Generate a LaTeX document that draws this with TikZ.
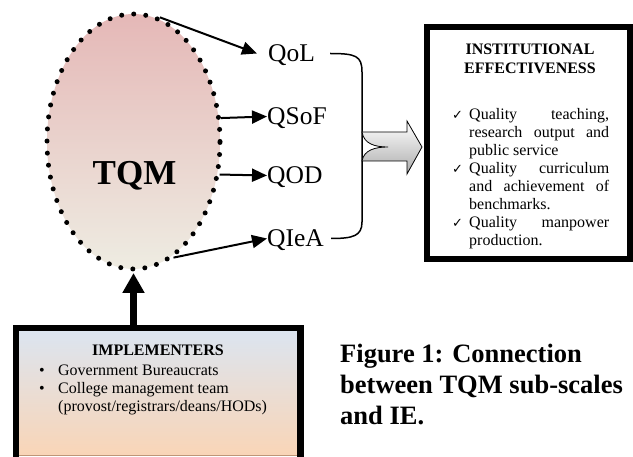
\documentclass[tikz,border=0pt]{standalone}
\usepackage{fontspec}
\setmainfont{Liberation Serif}
\newfontfamily\dejavu{DejaVu Sans}
\usetikzlibrary{arrows.meta,shapes.geometric,calc}
\definecolor{tqmtop}{RGB}{229,184,183}
\definecolor{tqmbot}{RGB}{238,236,226}
\definecolor{impltop}{RGB}{219,229,241}
\definecolor{implbot}{RGB}{249,213,183}
\definecolor{implline}{RGB}{190,150,120}
\begin{document}
\begin{tikzpicture}[x=1pt,y=-1pt,
  lbl/.style={font=\fontsize{25.5}{26}\selectfont, inner sep=0pt, text height=17pt, text depth=0pt, anchor=base west},
  arr/.style={line width=2pt, -{Triangle[length=15pt,width=13pt]}},
  body/.style={font=\fontsize{16}{18.1}\selectfont, inner sep=0pt},
  head/.style={font=\bfseries\fontsize{16}{19}\selectfont, inner sep=0pt, anchor=base},
  thickbox/.style={line width=6.5pt, line join=miter},
  chk/.style={}
]
\newcommand{\chkmark}{\makebox[17pt][l]{\dejavu\fontsize{13}{13}\selectfont ✓}}
\useasboundingbox (0,0) rectangle (633,457);
\clip (0,0) rectangle (633,457);

% TQM ellipse
\node[ellipse, minimum width=173pt, minimum height=255pt, inner sep=0pt,
      top color=tqmtop, bottom color=tqmbot, draw=black, line width=5pt,
      dash pattern=on 0pt off 12.1pt, line cap=round] (tqm) at (133.5,141.5) {};
\node[font=\bfseries\fontsize{35}{35}\selectfont, inner sep=0pt, anchor=base] (tqmtext) at (134.5,185) {TQM};

% sub-scale labels
\node[lbl] (qol) at (268,62) {QoL};
\node[lbl] (qsof) at (267,125) {QSoF};
\node[lbl] (qod) at (267,184) {QOD};
\node[lbl] (qiea) at (267,247) {QIeA};

\draw[arr] (tqm.78) -- ([xshift=-11pt]qol.west);
\draw[arr] (tqm.15) -- (qsof.west);
\draw[arr] (tqm.-21) -- (qod.west);
\draw[arr] (tqm.-71) -- (qiea.west);

% brace
\coordinate (bt) at ([xshift=15pt]qol.east);
\coordinate (bb) at ([xshift=7pt]qiea.east);
\draw[line width=1.5pt] (bt) .. controls +(26,0) and +(0,-16) .. (362,72)
  -- (362,222) .. controls +(0,14) and +(22,0) .. (bb);

% block arrow
\draw[line width=0.8pt, top color=white, bottom color=gray!65, line join=miter]
  (362,132) -- (407,132) -- (407,121) -- (422,147) -- (407,174) -- (407,161) -- (362,161)
  .. controls (364,150) and (375,147) .. (388,147)
  .. controls (375,147) and (364,144) .. (362,132) -- cycle;

% Institutional effectiveness box
\node[draw, line width=6pt, minimum width=203pt, minimum height=232pt, inner sep=0pt, fill=white] (iebox) at (528.5,143) {};
\node[head] (ieh1) at (530,55) {INSTITUTIONAL};
\node[head] (ieh2) at (530,74) {EFFECTIVENESS};
\node[body, text width=157pt, align=justify, anchor=north west] (ielist) at (452,106) {%
  \parindent=0pt\tolerance=10000\hyphenpenalty=10000\exhyphenpenalty=10000
  \hangindent=17pt\hangafter=1\rule{0pt}{13pt}\chkmark Quality teaching, research output and public service\par
  \hangindent=17pt\hangafter=1\chkmark Quality curriculum and achievement of benchmarks.\par
  \hangindent=17pt\hangafter=1\chkmark Quality manpower production.\par};

% Implementers box
\node[anchor=north west, minimum width=284pt, minimum height=127pt, inner sep=0pt,
      top color=impltop, bottom color=implbot] (impl) at (16,328) {};
\draw[implline, line width=0.8pt] (impl.south west) -- (impl.south east);
\draw[thickbox] ([yshift=-20pt]impl.south west) -- (impl.north west) -- (impl.north east) -- ([yshift=-20pt]impl.south east);
\node[head] (implh) at (158,356) {IMPLEMENTERS};
\node[body, anchor=base west] (impl1) at (39,376) {\makebox[19pt][l]{\textbullet}Government Bureaucrats};
\node[body, anchor=base west] (impl2) at (39,394) {\makebox[19pt][l]{\textbullet}College management team};
\node[body, anchor=base west] (impl3) at (58,412) {(provost/registrars/deans/HODs)};

\draw[line width=7pt, -{Triangle[length=20pt,width=21pt]}] (tqm.south |- impl.north) -- ([yshift=-1.5pt]tqm.south);

% caption
\node[font=\bfseries\fontsize{26.5}{31}\selectfont, align=left, inner sep=0pt, anchor=north west] (cap) at (340,344)
  {\rule{0pt}{18pt}Figure 1: Connection\\between TQM sub-scales\\and IE.};
\end{tikzpicture}
\end{document}
